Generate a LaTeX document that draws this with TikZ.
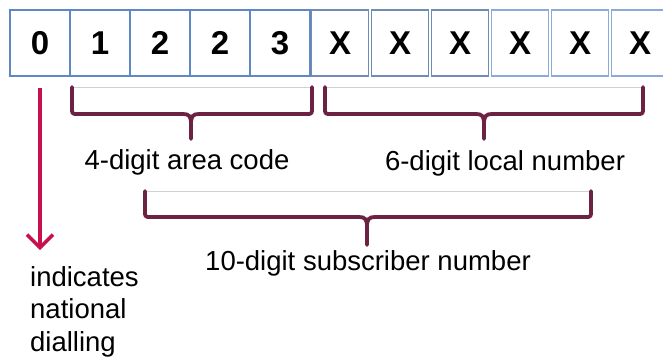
\documentclass[tikz,border=0pt]{standalone}
\usepackage{fontspec}
\setmainfont{Liberation Sans}
\usetikzlibrary{arrows.meta}
\definecolor{boxblue}{RGB}{96,136,196}
\definecolor{boxblueB}{RGB}{112,140,180}
\definecolor{boxblueC}{RGB}{140,170,215}
\definecolor{bracecol}{RGB}{108,34,66}
\definecolor{arrowcol}{RGB}{200,16,78}
\tikzset{
  digitbox/.style={draw=boxblue, line width=1.8pt, minimum width=60pt, minimum height=66pt, inner sep=0pt, font=\fontsize{33}{33}\selectfont\bfseries},
  xbox/.style={draw=boxblueB, line width=1.6pt, minimum width=57pt, minimum height=66pt, inner sep=0pt, font=\fontsize{33}{33}\selectfont\bfseries},
  xboxlight/.style={xbox, draw=boxblueC},
  bracestyle/.style={draw=bracecol, line width=3.8pt, line join=round, line cap=round},
  faint/.style={draw=black!18, line width=0.8pt},
  labeltext/.style={inner sep=0pt, font=\fontsize{27.5}{32.5}\selectfont},
}
\def\ourbrace#1#2#3#4#5#6{%
  \draw[faint] (#1,#4) -- (#2,#4);
  \draw[bracestyle] (#1,#4) -- (#1,#5-6) .. controls (#1,#5) .. (#1+6,#5) -- (#3-8,#5) .. controls (#3-2,#5) and (#3,#5+2) .. (#3,#5+10) -- (#3,#6);
  \draw[bracestyle] (#2,#4) -- (#2,#5-6) .. controls (#2,#5) .. (#2-6,#5) -- (#3+8,#5) .. controls (#3+2,#5) and (#3,#5+2) .. (#3,#5+10);
}
\begin{document}
\begin{tikzpicture}[x=1pt,y=-1pt]
\useasboundingbox (0,0) rectangle (663,359);
% digit boxes
\node[digitbox] (b0) at (40,43) {0};
\node[digitbox] (b1) at (100,43) {1};
\node[digitbox] (b2) at (160,43) {2};
\node[digitbox] (b3) at (220,43) {2};
\node[digitbox] (b4) at (280,43) {3};
\node[xbox] (x1) at (340,43) {X};
\node[xbox] (x2) at (400,43) {X};
\node[xbox] (x3) at (460,43) {X};
\node[xboxlight] (x4) at (520,43) {X};
\node[xboxlight] (x5) at (580,43) {X};
\node[xboxlight] (x6) at (640,43) {X};
% braces
\ourbrace{72}{312}{191}{87}{114}{139}
\ourbrace{325}{643}{484}{87}{114}{139}
\ourbrace{145}{591}{367}{191}{217}{245}
% labels
\node[labeltext, anchor=base] (area) at (187,169) {4-digit area code};
\node[labeltext, anchor=base] (local) at (505,170) {6-digit local number};
\node[labeltext, anchor=base] (subs) at (368,270) {10-digit subscriber number};
% arrow
\coordinate (arrowend) at (40,250);
\draw[draw=arrowcol, line width=3.4pt, -{Straight Barb[length=13pt,width=26pt,line width=3.4pt]}] ([yshift=-11pt]b0.south) -- (arrowend);
\node[labeltext, anchor=north west, align=left] (nat) at (30,266) {indicates\\national\\dialling};
\end{tikzpicture}
\end{document}
